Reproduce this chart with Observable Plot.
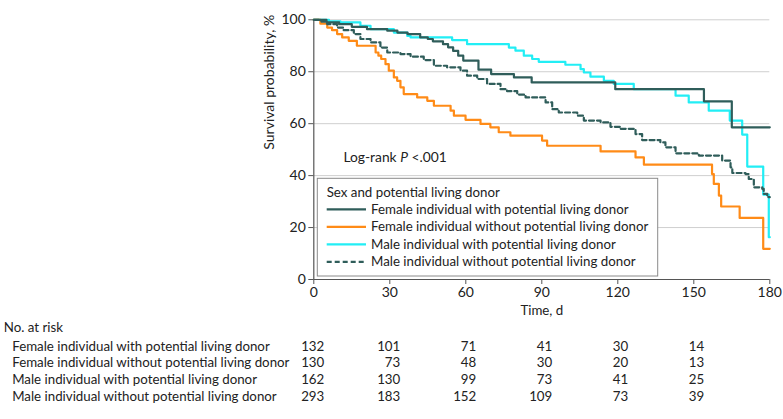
<!DOCTYPE html>
<html>
<head>
<meta charset="utf-8">
<script src="https://cdn.jsdelivr.net/npm/d3@7"></script>
<script src="https://cdn.jsdelivr.net/npm/@observablehq/plot@0.6"></script>
<style>
  html, body { margin: 0; padding: 0; background: #fff; }
  #chart { width: 783px; height: 419px; overflow: hidden; }
</style>
</head>
<body>
<div id="chart"></div>
<script>
// ---- data ----
const groupNames = [
  "Female individual with potential living donor",
  "Female individual without potential living donor",
  "Male individual with potential living donor",
  "Male individual without potential living donor"
];
const groupColors = ["#2f5d5a", "#ff8b17", "#22eef5", "#2f5d5a"];
const groupDash = [null, null, null, "5,3"];

const femaleWith = [[0,100],[5,99],[10,98.3],[15,97.3],[21,96.4],[29,95.8],[33,95.1],[37,94.5],[42,93.2],[45,92.6],[47,91.7],[51,90.6],[53,89.4],[55,88],[57,86.2],[59,84.3],[65,80.8],[70,79.1],[79,77.8],[86,75.9],[119,73.3],[154,68.6],[165,58.6],[180,58.6]];
const femaleWithout = [[0,100],[2.6,98.5],[5.3,97],[7.2,96],[9.2,94.5],[11.2,93.2],[13.8,91.9],[17,90],[24.4,87.4],[25.5,86.2],[26.6,84.9],[28.3,82.9],[29.6,80.4],[31.6,77.8],[32.9,76.5],[34.2,74],[35.5,71.4],[40.8,70.1],[44.8,68.8],[47.4,66.9],[54,65],[55.3,63.1],[59.9,61.5],[65.8,59.9],[69.7,58.6],[73,56.7],[77.6,55.4],[90.1,53.5],[92.1,51.5],[113.2,49.3],[127,47],[130.3,44.2],[157.2,40.6],[157.9,36.8],[159.9,32.3],[160.8,28.1],[168.1,23.7],[177.4,11.8],[180,11.8]];
const maleWith = [[0,100],[6,99.4],[10.5,99],[18.4,97.7],[22.4,96.4],[31.6,95.1],[36.9,93.8],[38.2,93.2],[54.6,92.2],[60.5,90.6],[77,89.3],[79.6,88.1],[82.9,86.2],[86.2,84.9],[88.8,83.8],[99.3,82.7],[105.3,81],[106.6,79.7],[109.2,78.1],[114.5,76.5],[118.4,75.3],[126.3,73.3],[142.8,70.8],[148,68.2],[155.9,65],[164.2,61.2],[169.1,55.8],[171.1,43.5],[177.4,32.7],[179.6,16.3],[180,16.3]];
const maleWithout = [[0,100],[3,99.3],[5.3,98.3],[9.2,97],[11.8,96],[15.8,94.5],[18.4,92.6],[22.4,91.3],[26.3,89.3],[29,87.4],[34.2,86.8],[38.2,85.8],[43.4,84.5],[47.4,82.3],[52.6,81.7],[57.9,80.4],[60.5,78.5],[64.5,77.2],[68.4,75.3],[73.7,73.3],[76.3,72.5],[80.3,71.2],[83.6,70.1],[91.5,68.2],[94.1,65.6],[96.7,64.3],[104,63.1],[106.6,61.2],[113.2,60.5],[117.1,58.8],[121.1,58],[127,56],[129.6,53.7],[136.8,52.8],[138.8,50.9],[142.8,48.6],[152,47.7],[161.2,45.8],[164.5,43.2],[165.2,41],[170.4,40.6],[171.7,38.7],[173.7,35.5],[177,34.9],[177.6,33],[179,31.7],[180,31.7]];

const xTicks = [0, 30, 60, 90, 120, 150, 180];
const yTicks = [0, 20, 40, 60, 80, 100];
const riskTimes = [0, 30, 60, 90, 120, 150];
const riskFemaleWith = [132, 101, 71, 41, 30, 14];
const riskFemaleWithout = [130, 73, 48, 30, 20, 13];
const riskMaleWith = [162, 130, 99, 73, 41, 25];
const riskMaleWithout = [293, 183, 152, 109, 73, 39];

const legendTitle = "Sex and potential living donor";
const xLabel = "Time, d";
const yLabel = "Survival probability, %";
const riskTitle = "No. at risk";
const logRankText = "Log-rank P <.001";
const logRankPos = [11.7, 47];

// ---- build ----
const curves = [femaleWith, femaleWithout, maleWith, maleWithout];
const risks = [riskFemaleWith, riskFemaleWithout, riskMaleWith, riskMaleWithout];
const toRows = pts => pts.map(([t, s]) => ({t, s}));

const FONT = "Lato, 'Liberation Sans', sans-serif";
const AXIS = "#555";
const rowDy = [71, 87.7, 104.3, 121];

const drawOrder = [2, 1, 3, 0];
const lineMarks = drawOrder.map(i => Plot.line(toRows(curves[i]), {
  x: "t", y: "s", curve: "step-after",
  stroke: groupColors[i], strokeWidth: 2.2,
  strokeDasharray: groupDash[i] || undefined
}));

const riskMarks = [];
risks.forEach((vals, i) => {
  riskMarks.push(Plot.text([groupNames[i]], {
    frameAnchor: "bottom-left", textAnchor: "start",
    dx: -301.6, dy: rowDy[i], fontSize: 13.3, fill: "#222"
  }));
  riskMarks.push(Plot.text(riskTimes.map((t, j) => ({t, n: vals[j]})), {
    x: "t", text: "n", frameAnchor: "bottom", textAnchor: "end",
    dx: 10.5, dy: rowDy[i], fontSize: 13.3, fill: "#222"
  }));
});

const plot = Plot.plot({
  width: 783, height: 419,
  marginLeft: 313.3, marginRight: 13.7, marginTop: 19.3, marginBottom: 140,
  x: {domain: [0, 180]},
  y: {domain: [0, 100]},
  style: {fontFamily: FONT, fontSize: "13px", background: "#fff", color: "#222"},
  marks: [
    Plot.gridY(yTicks.filter(d => d > 0), {stroke: "#cfcfcf", strokeOpacity: 1, strokeWidth: 1}),
    Plot.axisY({ticks: yTicks, tickSize: 5, tickPadding: 3, label: null, fontSize: 14, stroke: AXIS, fill: "#222"}),
    Plot.axisX({ticks: xTicks, tickSize: 5, tickPadding: 3, label: null, fontSize: 14, stroke: AXIS, fill: "#222"}),
    Plot.ruleX([0], {stroke: AXIS, strokeWidth: 1.2}),
    Plot.ruleY([0], {stroke: AXIS, strokeWidth: 1.2}),
    Plot.text([yLabel], {frameAnchor: "left", rotate: -90, dx: -44, fontSize: 14, fill: "#222"}),
    Plot.text([xLabel], {frameAnchor: "bottom", dy: 35, fontSize: 13.3, fill: "#222"}),
    Plot.text([logRankText], {x: () => logRankPos[0], y: () => logRankPos[1], textAnchor: "start", fontSize: 13.8, fill: "#222", className: "logrank"}),
    ...lineMarks,
    Plot.text([riskTitle], {frameAnchor: "bottom-left", textAnchor: "start", dx: -310, dy: 52.7, fontSize: 13.3, fill: "#222"}),
    ...riskMarks
  ]
});
document.getElementById("chart").appendChild(plot);

// italic P in the log-rank annotation
d3.select(plot).selectAll("g.logrank text").each(function() {
  const t = d3.select(this);
  const txt = t.text();
  const k = txt.indexOf(" P ");
  t.text(null);
  t.append("tspan").text(txt.slice(0, k + 1));
  t.append("tspan").attr("font-style", "italic").text("P");
  t.append("tspan").text(txt.slice(k + 2));
});

// legend inside the plot frame
const xs = plot.scale("x"), ys = plot.scale("y");
const bx = xs.apply(0) + 4, bw = 340.4;
const by = ys.apply(100) + 159, bh = 97.7;
const lg = d3.select(plot).append("g")
  .attr("font-family", FONT).attr("font-size", 13.3).attr("text-anchor", "start");
lg.append("rect").attr("x", bx).attr("y", by).attr("width", bw).attr("height", bh)
  .attr("fill", "#fff").attr("stroke", "#8a8a8a").attr("stroke-width", 1);
lg.append("text").attr("x", bx + 9.4).attr("y", by + 14.4).attr("dy", "0.35em").attr("fill", "#222").text(legendTitle);
groupNames.forEach((name, i) => {
  const yy = by + 31 + i * 17.5;
  lg.append("line").attr("x1", bx + 9.4).attr("x2", bx + 48.7).attr("y1", yy).attr("y2", yy)
    .attr("stroke", groupColors[i]).attr("stroke-width", 2.2)
    .attr("stroke-dasharray", groupDash[i]);
  lg.append("text").attr("x", bx + 53.7).attr("y", yy).attr("dy", "0.35em").attr("fill", "#222").text(name);
});
</script>
</body>
</html>
